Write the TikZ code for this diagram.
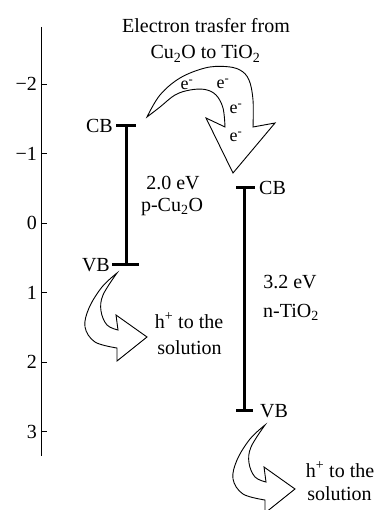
\documentclass[tikz,border=0pt]{standalone}
\usepackage{fontspec}
\setmainfont{Liberation Serif}
\begin{document}
\begin{tikzpicture}[x=1pt,y=-1pt,
  font=\fontsize{20}{24}\selectfont,
  every node/.style={inner sep=0pt},
  axisline/.style={line width=0.9pt},
  bar/.style={line width=3pt},
  tickmark/.style={line width=0.9pt},
  arrowshape/.style={draw=black,fill=white,line width=0.9pt,line join=miter},
  elab/.style={font=\fontsize{18}{20}\selectfont}]
\useasboundingbox (0,0) rectangle (376,510);

% axis
\coordinate (axtop) at (41,27);
\coordinate (axbot) at (41,456);
\draw[axisline] (axtop) -- (axbot);
\foreach \v/\lab [count=\i] in {-2/−2,-1/−1,0/0,1/1,2/2,3/3}{
  \coordinate (tk\i) at (41,{223+69.5*\v});
  \draw[tickmark] (tk\i) -- ++(6,0);
  \node[anchor=east] (tl\i) at ([xshift=-4pt]tk\i) {\lab};
}

% Cu2O bands
\coordinate (cuCB) at (126,125.7);
\coordinate (cuVB) at (126,264.7);
\draw[bar] (cuCB) -- (cuVB);
\draw[bar] ([xshift=-10pt]cuCB) -- ([xshift=10pt]cuCB);
\draw[bar] ([xshift=-14pt]cuVB) -- ([xshift=13pt]cuVB);
\node[anchor=east] (cuCBl) at (113,125.7) {CB};
\node[anchor=east] (cuVBl) at (110,264.7) {VB};
\node[anchor=base] (cugap) at (173,189.5) {2.0 eV};
\node[anchor=base] (cuname) at (172,211.5) {p-Cu\textsubscript{2}O};

% TiO2 bands
\coordinate (tiCB) at (244,188);
\coordinate (tiVB) at (244,410.6);
\draw[bar] (tiCB) -- (tiVB);
\draw[bar] ([xshift=-8pt]tiCB) -- ([xshift=11pt]tiCB);
\draw[bar] ([xshift=-8pt]tiVB) -- ([xshift=9pt]tiVB);
\node[anchor=west] (tiCBl) at (259,188) {CB};
\node[anchor=west] (tiVBl) at (260,410.6) {VB};
\node[anchor=base] (tigap) at (290,288.5) {3.2 eV};
\node[anchor=base] (tiname) at (291,317) {n-TiO\textsubscript{2}};

% title
\node[anchor=base] (title1) at (206,32.3) {Electron trasfer from};
\node[anchor=base] (title2) at (205.5,59) {Cu\textsubscript{2}O to TiO\textsubscript{2}};

% electron transfer arrow
\draw[arrowshape] plot[smooth,tension=0.6] coordinates {(147,117) (160,95) (180,78) (205,68) (225,66.5) (240,70) (249,80) (253,100) (253,127)}
  -- (275,123) -- (233,173) -- (206,118) -- (225,127)
  -- plot[smooth,tension=0.6] coordinates {(225,127) (223,108) (216,95) (205,89.5) (190,90) (175,95) (160,107) (147,117)} -- cycle;
\node[elab] (e1) at (187,85) {e\textsuperscript{-}};
\node[elab] (e2) at (223,84) {e\textsuperscript{-}};
\node[elab] (e3) at (236,109) {e\textsuperscript{-}};
\node[elab] (e4) at (236,137) {e\textsuperscript{-}};

% hole arrows
\foreach \dx/\dy in {0/0,148/152}{
\begin{scope}[shift={(\dx,\dy)}]
\draw[arrowshape] plot[smooth,tension=0.6] coordinates {(117,273) (102,287) (89,308) (85,327) (95,342) (117,348)}
  -- (117,361) -- (147,337) -- (116,315) -- (118,330)
  -- plot[smooth,tension=0.6] coordinates {(118,330) (107,325) (101,311) (103,295) (117,273)} -- cycle;
\end{scope}
}
\node[anchor=base] (h1a) at (189,328) {h\textsuperscript{+} to the};
\node[anchor=base] (h1b) at (189.5,354) {solution};
\node[anchor=base] (h2a) at (340,477) {h\textsuperscript{+} to the};
\node[anchor=base] (h2b) at (339.5,500.7) {solution};
\end{tikzpicture}
\end{document}
